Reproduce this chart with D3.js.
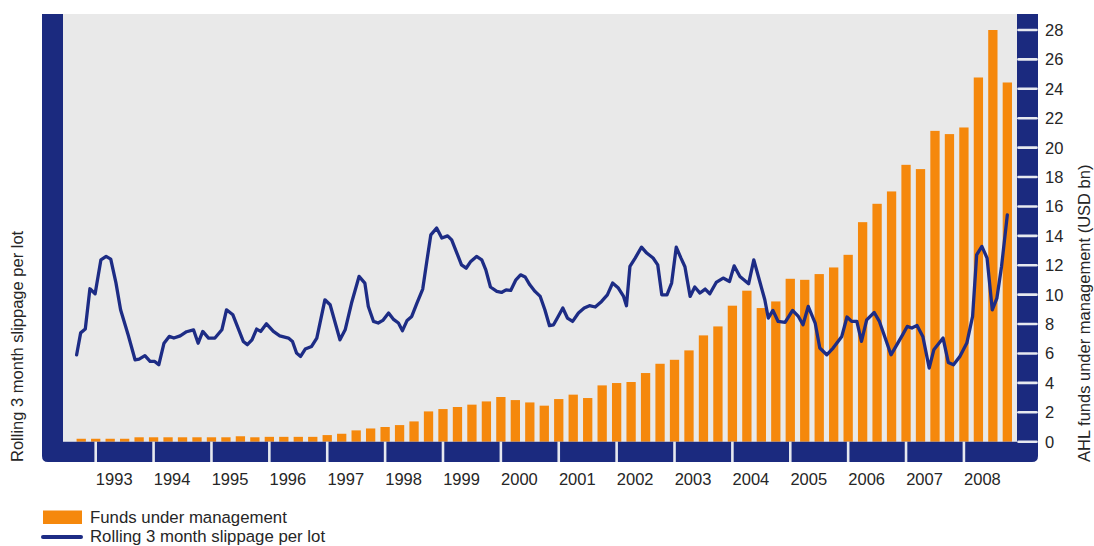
<!DOCTYPE html>
<html>
<head>
<meta charset="utf-8">
<script src="https://cdn.jsdelivr.net/npm/d3@7/dist/d3.min.js"></script>
<style>
  html, body { margin: 0; padding: 0; background: #ffffff; }
  svg { display: block; }
  text { font-family: "Liberation Sans", Arial, sans-serif; fill: #262626; }
</style>
</head>
<body>
<svg id="chart" width="1094" height="546"></svg>
<script>
// ---------------- DATA ----------------
const yearLabels = [1993, 1994, 1995, 1996, 1997, 1998, 1999, 2000, 2001, 2002, 2003, 2004, 2005, 2006, 2007, 2008];
const rightTicks = [0, 2, 4, 6, 8, 10, 12, 14, 16, 18, 20, 22, 24, 26, 28];

// Funds under management (USD bn), quarterly from Q4 1992
const fundsStart = 1992.75;
const fundsValues = [
  0.2, 0.2, 0.2, 0.2, 0.3, 0.3, 0.3, 0.3, 0.3, 0.3, 0.3, 0.37, 0.3,
  0.33, 0.33, 0.33, 0.33, 0.45, 0.54, 0.77, 0.9, 1.0, 1.13, 1.38,
  2.06, 2.22, 2.36, 2.52, 2.74, 3.04, 2.83, 2.67, 2.45, 2.9, 3.2, 2.97,
  3.83, 3.99, 4.06, 4.67, 5.3, 5.57, 6.21, 7.23, 7.84, 9.25, 10.27, 9.09,
  9.54, 11.08, 11.01, 11.4, 11.85, 12.71, 14.93, 16.18, 17.02, 18.83, 18.54,
  21.14, 20.92, 21.37, 24.77, 28.0, 24.43
];

// Rolling 3 month slippage per lot (unlabelled left axis, read in right-axis units)
const slipDates = [
  1992.67, 1992.74, 1992.82, 1992.90, 1992.99, 1993.09, 1993.18, 1993.26, 1993.35, 1993.43,
  1993.56, 1993.68, 1993.75, 1993.85, 1993.94, 1994.02, 1994.09, 1994.18, 1994.27, 1994.35,
  1994.46, 1994.57, 1994.69, 1994.77, 1994.85, 1994.95, 1995.06, 1995.18, 1995.26, 1995.37,
  1995.46, 1995.55, 1995.62, 1995.70, 1995.78, 1995.85, 1995.95, 1996.07, 1996.18, 1996.33,
  1996.40, 1996.47, 1996.54, 1996.62, 1996.73, 1996.82, 1996.96, 1997.05, 1997.22, 1997.31,
  1997.42, 1997.55, 1997.65, 1997.71, 1997.80, 1997.88, 1997.96, 1998.06, 1998.14, 1998.23,
  1998.30, 1998.38, 1998.46, 1998.55, 1998.65, 1998.72, 1998.79, 1998.89, 1998.98, 1999.08,
  1999.15, 1999.24, 1999.32, 1999.40, 1999.48, 1999.58, 1999.67, 1999.74, 1999.82, 1999.93,
  2000.01, 2000.09, 2000.17, 2000.26, 2000.34, 2000.42, 2000.50, 2000.59, 2000.68, 2000.76,
  2000.84, 2000.91, 2000.99, 2001.07, 2001.15, 2001.24, 2001.34, 2001.44, 2001.53, 2001.63,
  2001.74, 2001.84, 2001.93, 2002.03, 2002.12, 2002.17, 2002.23, 2002.32, 2002.43, 2002.52,
  2002.63, 2002.71, 2002.78, 2002.87, 2002.95, 2003.03, 2003.11, 2003.18, 2003.27, 2003.35,
  2003.44, 2003.53, 2003.61, 2003.72, 2003.84, 2003.95, 2004.03, 2004.13, 2004.28, 2004.37,
  2004.48, 2004.56, 2004.62, 2004.70, 2004.79, 2004.91, 2005.04, 2005.14, 2005.22, 2005.31,
  2005.43, 2005.51, 2005.63, 2005.74, 2005.89, 2005.98, 2006.06, 2006.15, 2006.23, 2006.32,
  2006.45, 2006.54, 2006.64, 2006.74, 2006.84, 2006.94, 2007.02, 2007.10, 2007.19, 2007.29,
  2007.40, 2007.48, 2007.64, 2007.73, 2007.82, 2007.93, 2008.05, 2008.15, 2008.22, 2008.31,
  2008.40, 2008.49, 2008.57, 2008.65, 2008.75
];
const slipValues = [
  5.9, 7.4, 7.66, 10.4, 10.06, 12.37, 12.6, 12.42, 10.8, 8.97,
  7.27, 5.57, 5.62, 5.85, 5.46, 5.46, 5.23, 6.7, 7.16, 7.05,
  7.2, 7.48, 7.61, 6.7, 7.5, 7.05, 7.05, 7.61, 8.97, 8.63,
  7.73, 6.82, 6.6, 6.93, 7.66, 7.5, 8.02, 7.5, 7.2, 7.05,
  6.82, 6.03, 5.8, 6.3, 6.48, 7.05, 9.65, 9.31, 6.93, 7.61,
  9.43, 11.24, 10.79, 9.2, 8.18, 8.07, 8.25, 8.75, 8.34, 8.07,
  7.55, 8.25, 8.52, 9.43, 10.38, 12.26, 14.07, 14.53, 13.85, 14.0,
  13.73, 12.83, 12.03, 11.8, 12.26, 12.6, 12.37, 11.69, 10.52, 10.22,
  10.15, 10.33, 10.29, 11.01, 11.35, 11.2, 10.67, 10.22, 9.88, 8.97,
  7.89, 7.95, 8.52, 9.09, 8.41, 8.18, 8.75, 9.09, 9.25, 9.16,
  9.54, 9.99, 10.79, 10.45, 9.88, 9.25, 11.92, 12.49, 13.23, 12.83,
  12.49, 12.03, 9.99, 9.99, 10.79, 13.23, 12.5, 11.9, 9.88, 10.52,
  10.11, 10.38, 10.06, 10.83, 11.13, 10.9, 11.96, 11.24, 10.74, 12.37,
  10.79, 9.65, 8.41, 8.93, 8.18, 8.11, 8.93, 8.52, 7.95, 9.2,
  8.07, 6.37, 5.91, 6.37, 7.16, 8.48, 8.18, 8.18, 6.82, 8.29,
  8.79, 8.18, 7.05, 5.91, 6.59, 7.27, 7.84, 7.73, 7.91, 7.16,
  5.01, 6.25, 7.05, 5.39, 5.23, 5.8, 6.71, 8.52, 12.71, 13.28,
  12.49, 8.97, 9.77, 11.92, 15.43
];

// ---------------- LAYOUT ----------------
const C = {
  navy: "#1b2a7f",
  orange: "#f5880c",
  plotBg: "#e9e9e9",
  tickWhite: "#e7e9ef",
  line: "#1d2c85"
};
const frame = { left: 42, innerLeft: 63, innerRight: 1017, right: 1038, top: 14, base: 441.7, bottom: 462, r: 6 };

const svg = d3.select("#chart");

const x = d3.scaleLinear().domain([1993, 2009]).range([95.7, 1021.8]);
const y = d3.scaleLinear().domain([0, 28]).range([frame.base, 30]);       // right axis (USD bn)
const ySlip = d3.scaleLinear().domain([0, 28]).range([frame.base, 30]);   // left (unlabelled) axis

// plot background
svg.append("rect")
  .attr("x", frame.innerLeft).attr("y", frame.top)
  .attr("width", frame.innerRight - frame.innerLeft)
  .attr("height", frame.base - frame.top)
  .attr("fill", C.plotBg);

// bars
const barW = 9.3;
const fundsData = fundsValues.map((v, i) => ({ t: fundsStart + i * 0.25, v }));
svg.append("g").selectAll("rect")
  .data(fundsData)
  .join("rect")
  .attr("x", d => x(d.t) - barW / 2)
  .attr("y", d => y(d.v))
  .attr("width", barW)
  .attr("height", d => y(0) - y(d.v))
  .attr("fill", C.orange);

// frame (left, bottom, right bars)
const f = frame;
const framePath = `M${f.left},${f.top} H${f.innerLeft} V${f.base} H${f.innerRight} V${f.top} H${f.right}
  V${f.bottom - f.r} Q${f.right},${f.bottom} ${f.right - f.r},${f.bottom}
  H${f.left + f.r} Q${f.left},${f.bottom} ${f.left},${f.bottom - f.r} Z`;
svg.append("path").attr("d", framePath).attr("fill", C.navy);

// year separators in bottom bar
svg.append("g").selectAll("line")
  .data(yearLabels)
  .join("line")
  .attr("x1", d => x(d)).attr("x2", d => x(d))
  .attr("y1", f.base).attr("y2", f.bottom)
  .attr("stroke", C.tickWhite).attr("stroke-width", 2.6);

// year labels
svg.append("g").selectAll("text")
  .data(yearLabels)
  .join("text")
  .attr("x", d => x(d + 0.32))
  .attr("y", 485)
  .attr("text-anchor", "middle")
  .attr("font-size", "16.5px")
  .text(d => d);

// right axis ticks (white lines in right bar) + labels
const rAxis = svg.append("g");
rAxis.selectAll("line")
  .data(rightTicks)
  .join("line")
  .attr("x1", f.innerRight + 1.5).attr("x2", f.right - 1.5)
  .attr("y1", d => y(d)).attr("y2", d => y(d))
  .attr("stroke", C.tickWhite).attr("stroke-width", 2.6).attr("stroke-linecap", "round");
rAxis.selectAll("text")
  .data(rightTicks)
  .join("text")
  .attr("x", 1045)
  .attr("y", d => y(d))
  .attr("dy", "0.36em")
  .attr("font-size", "16.5px")
  .text(d => d);

// slippage line
const lineData = slipDates.map((t, i) => ({ t, v: slipValues[i] }));
svg.append("path")
  .datum(lineData)
  .attr("d", d3.line().x(d => x(d.t)).y(d => ySlip(d.v)))
  .attr("fill", "none")
  .attr("stroke", C.line)
  .attr("stroke-width", 3.3)
  .attr("stroke-linejoin", "round")
  .attr("stroke-linecap", "round");

// axis titles
svg.append("text")
  .attr("transform", "translate(23,462) rotate(-90)")
  .attr("font-size", "16.5px")
  .text("Rolling 3 month slippage per lot");
svg.append("text")
  .attr("transform", "translate(1090,462) rotate(-90)")
  .attr("font-size", "16.5px")
  .text("AHL funds under management (USD bn)");

// legend
const lg = svg.append("g");
lg.append("rect").attr("x", 43).attr("y", 510.5).attr("width", 39).attr("height", 13.5).attr("fill", C.orange);
lg.append("text").attr("x", 90).attr("y", 522.7).attr("font-size", "16.8px").text("Funds under management");
lg.append("line").attr("x1", 43).attr("x2", 81).attr("y1", 537).attr("y2", 537)
  .attr("stroke", C.line).attr("stroke-width", 4).attr("stroke-linecap", "round");
lg.append("text").attr("x", 90).attr("y", 542).attr("font-size", "16.8px").text("Rolling 3 month slippage per lot");
</script>
</body>
</html>
